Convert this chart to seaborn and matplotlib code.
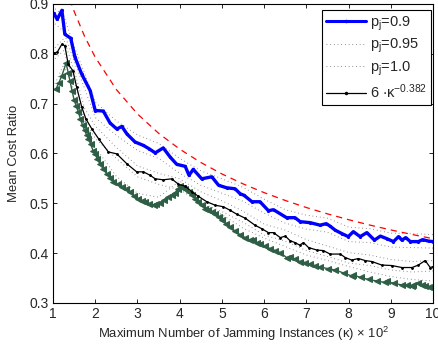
import numpy as np
import pandas as pd
import matplotlib
matplotlib.use("Agg")
import matplotlib.pyplot as plt
import seaborn as sns
from matplotlib.lines import Line2D

# ---------------- data ----------------
blue_k = [1.02, 1.10, 1.21, 1.28, 1.42, 1.52, 1.68, 1.88, 2.00, 2.19, 2.35, 2.51, 2.63, 2.75,
          2.94, 3.14, 3.28, 3.42, 3.61, 3.77, 3.93, 4.13, 4.22, 4.32, 4.52, 4.76, 4.92, 5.11,
          5.31, 5.43, 5.52, 5.71, 5.90, 6.10, 6.22, 6.53, 6.73, 6.85, 7.09, 7.32, 7.47, 7.56,
          7.68, 7.84, 7.99, 8.11, 8.27, 8.43, 8.61, 8.75, 8.90, 9.06, 9.18, 9.26, 9.35, 9.46,
          9.65, 9.75, 9.89, 10.0]
blue_v = [0.881, 0.869, 0.887, 0.839, 0.831, 0.793, 0.759, 0.726, 0.686, 0.685, 0.661, 0.649,
          0.654, 0.639, 0.623, 0.616, 0.609, 0.601, 0.611, 0.593, 0.578, 0.574, 0.556, 0.568,
          0.549, 0.553, 0.536, 0.531, 0.529, 0.519, 0.516, 0.503, 0.503, 0.485, 0.487, 0.471,
          0.471, 0.463, 0.461, 0.456, 0.459, 0.454, 0.446, 0.439, 0.433, 0.443, 0.433, 0.441,
          0.426, 0.434, 0.429, 0.423, 0.433, 0.426, 0.431, 0.423, 0.423, 0.427, 0.424, 0.423]

black_k = [1.02, 1.10, 1.21, 1.28, 1.36, 1.47, 1.56, 1.68, 1.78, 1.92, 2.09, 2.31, 2.51,
           2.75, 2.98, 3.14, 3.30, 3.42, 3.61, 3.81, 3.97, 4.13, 4.29, 4.44, 4.64, 4.84,
           5.03, 5.19, 5.35, 5.55, 5.78, 5.94, 6.10, 6.22, 6.38, 6.50, 6.61, 6.73, 6.84,
           6.93, 7.05, 7.25, 7.40, 7.56, 7.80, 7.92, 8.07, 8.23, 8.39, 8.55, 8.78, 9.02,
           9.26, 9.50, 9.65, 9.81, 9.93, 10.0]
black_v = [0.801, 0.803, 0.819, 0.816, 0.779, 0.766, 0.733, 0.693, 0.669, 0.649, 0.628, 0.603,
           0.599, 0.579, 0.563, 0.563, 0.556, 0.549, 0.547, 0.549, 0.538, 0.534, 0.523, 0.514,
           0.503, 0.496, 0.493, 0.486, 0.478, 0.470, 0.456, 0.449, 0.441, 0.441, 0.431, 0.434,
           0.425, 0.421, 0.416, 0.421, 0.411, 0.406, 0.405, 0.398, 0.398, 0.391, 0.386, 0.389,
           0.385, 0.383, 0.376, 0.375, 0.371, 0.371, 0.376, 0.385, 0.371, 0.373]

green_k = [1.07, 1.14, 1.21, 1.31, 1.36, 1.40, 1.45, 1.50, 1.55, 1.60, 1.65, 1.70, 1.75, 1.80,
           1.84, 1.89, 1.95, 2.00, 2.05, 2.11, 2.19, 2.27, 2.35, 2.43, 2.53, 2.63, 2.72, 2.82,
           2.92, 3.02, 3.10, 3.18, 3.28, 3.38, 3.45, 3.53, 3.63, 3.73, 3.81, 3.89, 3.95, 4.01,
           4.07, 4.13, 4.21, 4.29, 4.37, 4.44, 4.52, 4.60, 4.68, 4.76, 4.84, 4.92, 5.00, 5.10,
           5.20, 5.31, 5.43, 5.55, 5.67, 5.74, 5.82, 5.90, 6.02, 6.14, 6.26, 6.38, 6.53, 6.61,
           6.73, 6.85, 6.97, 7.09, 7.20, 7.32, 7.50, 7.68, 7.88, 8.07, 8.11, 8.28, 8.47, 8.66,
           8.86, 8.90, 9.08, 9.26, 9.38, 9.50, 9.53, 9.65, 9.73, 9.81, 9.90, 10.0]
green_v = [0.729, 0.742, 0.756, 0.781, 0.762, 0.746, 0.726, 0.707, 0.695, 0.683, 0.669, 0.656,
           0.646, 0.636, 0.629, 0.619, 0.605, 0.598, 0.589, 0.579, 0.569, 0.559, 0.551, 0.543,
           0.538, 0.533, 0.528, 0.523, 0.514, 0.509, 0.505, 0.502, 0.499, 0.497, 0.499, 0.501,
           0.507, 0.513, 0.517, 0.521, 0.528, 0.534, 0.531, 0.529, 0.522, 0.516, 0.509, 0.503,
           0.496, 0.489, 0.486, 0.483, 0.478, 0.473, 0.466, 0.459, 0.452, 0.444, 0.437, 0.431,
           0.426, 0.426, 0.421, 0.418, 0.414, 0.409, 0.405, 0.401, 0.391, 0.393, 0.388, 0.383,
           0.381, 0.378, 0.375, 0.372, 0.369, 0.366, 0.360, 0.354, 0.356, 0.351, 0.347, 0.344,
           0.341, 0.343, 0.339, 0.336, 0.335, 0.333, 0.336, 0.339, 0.336, 0.334, 0.332, 0.331]

band_k = [1.05, 1.25, 1.5, 1.75, 2.0, 2.5, 3.0, 3.5, 4.0, 4.5, 5.0, 5.5, 6.0, 6.5, 7.0, 7.5,
          8.0, 8.5, 9.0, 9.5, 10.0]
blue_hi = [0.890, 0.877, 0.815, 0.760, 0.703, 0.665, 0.637, 0.620, 0.590, 0.565, 0.549, 0.532,
           0.508, 0.487, 0.476, 0.470, 0.452, 0.449, 0.440, 0.439, 0.437]
blue_lo = [0.860, 0.845, 0.785, 0.730, 0.672, 0.636, 0.606, 0.590, 0.560, 0.536, 0.520, 0.504,
           0.480, 0.460, 0.448, 0.442, 0.423, 0.421, 0.412, 0.411, 0.410]
black_hi = [0.812, 0.830, 0.767, 0.690, 0.655, 0.612, 0.575, 0.560, 0.549, 0.523, 0.505, 0.484,
            0.458, 0.446, 0.427, 0.414, 0.401, 0.396, 0.387, 0.383, 0.385]
black_lo = [0.790, 0.806, 0.745, 0.665, 0.630, 0.590, 0.553, 0.538, 0.527, 0.501, 0.483, 0.462,
            0.436, 0.424, 0.405, 0.393, 0.380, 0.375, 0.366, 0.362, 0.364]
green_hi = [0.740, 0.778, 0.725, 0.668, 0.612, 0.554, 0.520, 0.512, 0.545, 0.500, 0.477, 0.450,
            0.430, 0.413, 0.396, 0.385, 0.373, 0.362, 0.353, 0.347, 0.344]

fit_k = [1.4, 1.5, 1.75, 2.0, 2.5, 3.0, 3.5, 4.0, 4.5, 5.0, 5.5, 6.0, 6.5, 7.0, 7.5, 8.0,
         8.5, 9.0, 9.5, 10.0]
fit_v = [0.9087, 0.8850, 0.8344, 0.7929, 0.7281, 0.6791, 0.6403, 0.6085, 0.5817, 0.5587,
         0.5388, 0.5212, 0.5055, 0.4913, 0.4786, 0.4669, 0.4562, 0.4464, 0.4373, 0.4288]

legend_labels = ["p$_\\mathregular{j}$=0.9", "p$_\\mathregular{j}$=0.95",
                 "p$_\\mathregular{j}$=1.0", "6 $\\cdot$κ$^{\\mathregular{-0.382}}$"]
x_ticks = [1, 2, 3, 4, 5, 6, 7, 8, 9, 10]
y_ticks = [0.3, 0.4, 0.5, 0.6, 0.7, 0.8, 0.9]

# ---------------- style ----------------
sns.set_style("white")
plt.rcParams['font.family'] = ['Liberation Sans', 'DejaVu Sans']
plt.rcParams['mathtext.fontset'] = 'custom'
plt.rcParams['mathtext.rm'] = 'Liberation Sans'
plt.rcParams['mathtext.it'] = 'Liberation Sans'
plt.rcParams['mathtext.default'] = 'regular'

fig = plt.figure(figsize=(4.38, 3.51), dpi=100)
ax = fig.add_axes([0.121, 0.137, 0.868, 0.852])

green = "#2E5E45"
blue = "#0000FF"
dot_style = (0, (0.8, 3.0))
dot_kw = dict(color="#777777", linestyle=dot_style, linewidth=0.7, legend=False)

for band in (blue_hi, blue_lo, black_hi, black_lo, green_hi):
    sns.lineplot(x=band_k, y=band, ax=ax, **dot_kw)

sns.lineplot(x=fit_k, y=fit_v, ax=ax, color="red", linestyle=(0, (5, 4)),
             linewidth=0.9, legend=False)
sns.lineplot(x=green_k, y=green_v, ax=ax, color=green, linewidth=1.0, marker="<",
             markersize=4, markeredgecolor=green, legend=False)
sns.lineplot(x=black_k, y=black_v, ax=ax, color="black", linewidth=0.9, marker=".",
             markersize=2.5, markeredgecolor="black", legend=False)
sns.lineplot(x=blue_k, y=blue_v, ax=ax, color=blue, linewidth=2.4, marker=".",
             markersize=3, markeredgecolor=blue, legend=False)

ax.set_xlim(1, 10)
ax.set_ylim(0.3, 0.9)
ax.set_xticks(x_ticks)
ax.set_yticks(y_ticks)
ax.set_xticklabels([str(t) for t in x_ticks])
ax.set_yticklabels([f"{t:.1f}" for t in y_ticks])
ax.tick_params(direction="in", length=3, width=0.7, labelsize=10, top=True, right=True,
               bottom=True, left=True, pad=3)
for s in ax.spines.values():
    s.set_linewidth(0.8)
    s.set_color("black")

ax.set_xlabel("Maximum Number of Jamming Instances (κ) × 10$^{\\mathregular{2}}$", fontsize=9.4,
              labelpad=3)
ax.set_ylabel("Mean Cost Ratio", fontsize=9.4, labelpad=7)

handles = [
    Line2D([], [], color=blue, linewidth=2.2, marker=".", markersize=3, markeredgecolor=blue),
    Line2D([], [], color="#777777", linestyle=dot_style, linewidth=0.7),
    Line2D([], [], color="#777777", linestyle=dot_style, linewidth=0.7),
    Line2D([], [], color="black", linewidth=0.9, marker=".", markersize=3,
           markeredgecolor="black"),
]
leg = ax.legend(handles, legend_labels, loc="upper right", fontsize=10.5, frameon=True,
                fancybox=False, edgecolor="black", framealpha=1, handlelength=2.7,
                borderpad=0.3, labelspacing=0.3, handletextpad=0.3, borderaxespad=0,
                bbox_to_anchor=(0.995, 0.98))
leg.get_frame().set_linewidth(0.8)

fig.savefig("out.png", dpi=100)
